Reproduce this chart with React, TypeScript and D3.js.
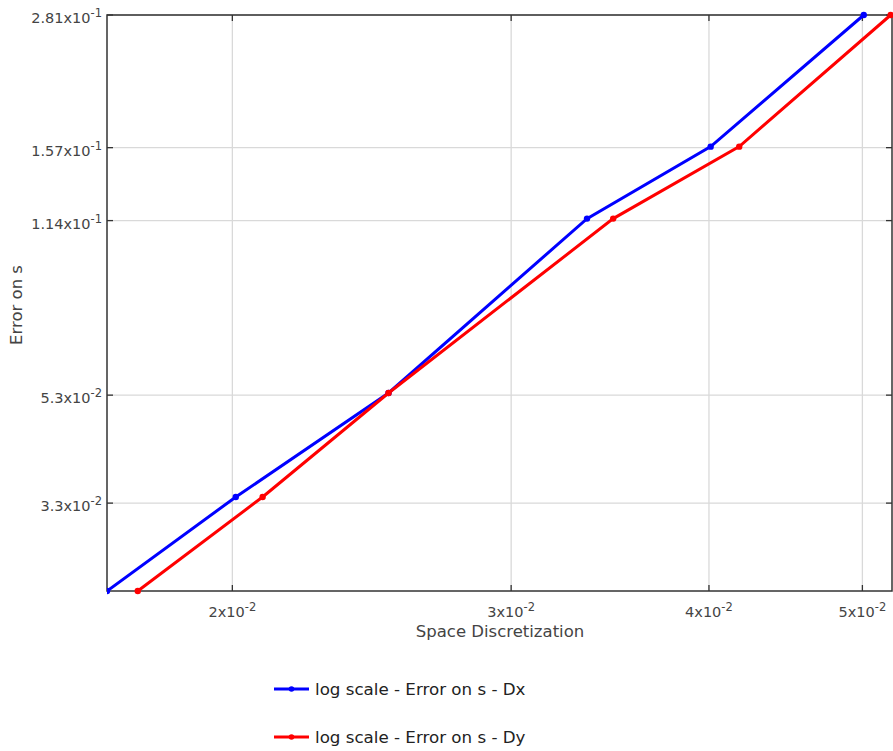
import React from "react";
import * as d3 from "d3";

const dxX = [0.016667, 0.0201, 0.0251, 0.0335, 0.0401, 0.0501];
const dyX = [0.01743, 0.0209, 0.0251, 0.0348, 0.0418, 0.0521];
const errY = [0.02244, 0.0339, 0.0535, 0.1150, 0.1577, 0.281];

const xTicks = [0.02, 0.03, 0.04, 0.05];
const xTickMant = ["2", "3", "4", "5"];
const xTickExp = ["-2", "-2", "-2", "-2"];
const yTicks = [0.281, 0.157, 0.114, 0.053, 0.033];
const yTickMant = ["2.81", "1.57", "1.14", "5.3", "3.3"];
const yTickExp = ["-1", "-1", "-1", "-2", "-2"];

const seriesNames = ["log scale - Error on s - Dx", "log scale - Error on s - Dy"];
const seriesColors = ["#0000ff", "#ff0000"];

const W = 893, H = 751;
const L = 107, R = 892, T = 15, B = 591;

export default function App() {
  const x = d3.scaleLog().domain([0.016667, 0.0522]).range([L, R]);
  const y = d3.scaleLog().domain([0.02244, 0.281]).range([B, T]);
  const line = d3.line<[number, number]>().x(d => x(d[0])).y(d => y(d[1]));
  const series = [dxX, dyX].map(xs => xs.map((v, i) => [v, errY[i]] as [number, number]));
  const font = "DejaVu Sans, sans-serif";
  const textCol = "#444";
  return (
    <svg width={W} height={H} style={{ position: "absolute", left: 0, top: 0, background: "#fff" }} fontFamily={font}>
      <defs>
        <clipPath id="plot"><rect x={L} y={T - 4} width={R - L + 4} height={B - T + 8} /></clipPath>
      </defs>
      {xTicks.map((t, i) => (
        <line key={"gx" + i} x1={x(t)} x2={x(t)} y1={T} y2={B} stroke="#d9d9d9" strokeWidth={1.3} />
      ))}
      {yTicks.map((t, i) => (
        <line key={"gy" + i} x1={L} x2={R} y1={y(t)} y2={y(t)} stroke="#d9d9d9" strokeWidth={1.3} />
      ))}
      {xTicks.map((t, i) => (
        <g key={"tx" + i}>
          <line x1={x(t)} x2={x(t)} y1={B} y2={B - 6} stroke="#333" strokeWidth={1.3} />
          <line x1={x(t)} x2={x(t)} y1={T} y2={T + 6} stroke="#333" strokeWidth={1.3} />
          <text x={x(t)} y={617} fontSize={14.5} fill={textCol} textAnchor="middle">
            {xTickMant[i]}x10<tspan dy={-6} fontSize={11.5}>{xTickExp[i]}</tspan>
          </text>
        </g>
      ))}
      {yTicks.map((t, i) => (
        <g key={"ty" + i}>
          <line x1={L} x2={L + 6} y1={y(t)} y2={y(t)} stroke="#333" strokeWidth={1.3} />
          <line x1={R} x2={R - 6} y1={y(t)} y2={y(t)} stroke="#333" strokeWidth={1.3} />
          <text x={102} y={y(t) + 8} fontSize={14.5} fill={textCol} textAnchor="end">
            {yTickMant[i]}x10<tspan dy={-6} fontSize={11.5}>{yTickExp[i]}</tspan>
          </text>
        </g>
      ))}
      <rect x={L} y={T} width={R - L} height={B - T} fill="none" stroke="#333" strokeWidth={1.5} />
      <g clipPath="url(#plot)">
        {series.map((s, k) => (
          <g key={"s" + k}>
            <path d={line(s) || ""} fill="none" stroke={seriesColors[k]} strokeWidth={3} />
            {s.map((p, j) => (
              <circle key={j} cx={x(p[0])} cy={y(p[1])} r={3.2} fill={seriesColors[k]} />
            ))}
          </g>
        ))}
      </g>
      <text x={500} y={637} fontSize={16.5} fill={textCol} textAnchor="middle">Space Discretization</text>
      <text transform="translate(22,305) rotate(-90)" fontSize={16.5} fill={textCol} textAnchor="middle">Error on s</text>
      {seriesNames.map((n, k) => (
        <g key={"lg" + k} transform={`translate(0,${689 + k * 48})`}>
          <line x1={274} x2={309} y1={0} y2={0} stroke={seriesColors[k]} strokeWidth={3} />
          <circle cx={291.5} cy={0} r={2.8} fill={seriesColors[k]} />
          <text x={315} y={6} fontSize={16.7} fill="#222">{n}</text>
        </g>
      ))}
    </svg>
  );
}
